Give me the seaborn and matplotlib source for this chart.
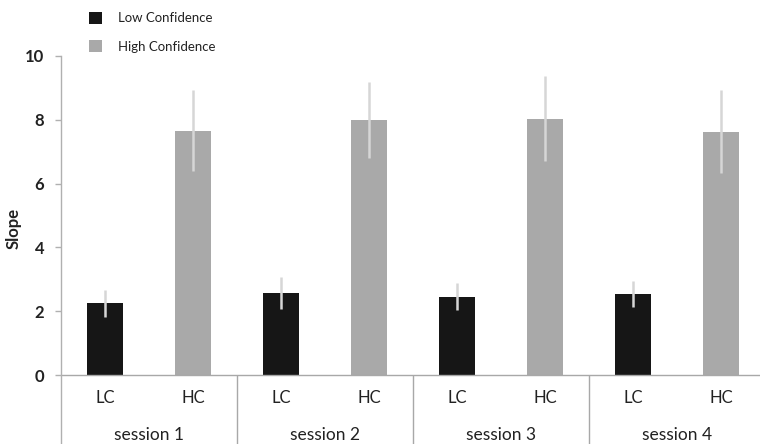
import numpy as np
import pandas as pd
import matplotlib
matplotlib.use("Agg")
import matplotlib.pyplot as plt
import seaborn as sns

sessions = ["session 1", "session 2", "session 3", "session 4"]
conditions = ["Low Confidence", "High Confidence"]
cond_short = ["LC", "HC"]
lc_means = [2.25, 2.57, 2.46, 2.53]
hc_means = [7.66, 8.00, 8.04, 7.62]
lc_err = [0.42, 0.50, 0.42, 0.41]
hc_err = [1.27, 1.20, 1.33, 1.30]
yticks = [0, 2, 4, 6, 8, 10]

sns.set_theme(style="white")
plt.rcParams['font.family'] = ['Lato', 'DejaVu Sans']

df = pd.DataFrame({
    "session": sessions * 2,
    "condition": [conditions[0]] * 4 + [conditions[1]] * 4,
    "slope": lc_means + hc_means,
})

W, H = 760, 444
fig = plt.figure(figsize=(W / 100, H / 100), dpi=100)
ax = fig.add_axes([61 / W, 0, 704 / W, 388 / H])

sns.barplot(data=df, x="session", y="slope", hue="condition",
            order=sessions, hue_order=conditions,
            palette=["#161616", "#a9a9a9"], saturation=1,
            width=1.0, gap=0.6, errorbar=None, linewidth=0, ax=ax)

for cont, errs in zip(ax.containers, [lc_err, hc_err]):
    xs = [b.get_x() + b.get_width() / 2 for b in cont]
    hs = [b.get_height() for b in cont]
    ax.errorbar(xs, hs, yerr=errs, fmt='none', ecolor='#d6d6d6',
                elinewidth=1.8, capsize=0, zorder=3)

ymin = -69 / 31.9
ax.set_ylim(ymin, 10)
ax.set_xlim(-0.5, 3.5)

for s in ["top", "right", "bottom"]:
    ax.spines[s].set_visible(False)
ax.spines["left"].set_color("#b0b0b0")
ax.spines["left"].set_linewidth(1)
ax.axhline(0, color="#a8a8a8", lw=1, zorder=1)
ax.vlines([0.5, 1.5, 2.5, 3.5], ymin, 0, color="#a8a8a8", lw=1)

ax.set_xticks([])
ax.set_xlabel("")
ax.set_yticks(yticks)
ax.set_yticklabels([str(t) for t in yticks], fontweight="bold", color="#222222")
ax.tick_params(axis="y", length=4, width=1, color="#b0b0b0", labelsize=12, pad=8, left=True)

ax.set_ylabel("Slope", fontweight="bold", fontsize=12, color="#222222")
ax.yaxis.set_label_coords((22 - 61) / 704, (444 - 228) / 388)

# category labels below the baseline
for cont, lab in zip(ax.containers, cond_short):
    for b in cont:
        ax.text(b.get_x() + b.get_width() / 2, -0.72, lab, ha="center", va="center",
                fontsize=12, color="#222222")
for i, s in enumerate(sessions):
    ax.text(i, -1.88, s, ha="center", va="center", fontsize=12.5, color="#222222")

leg = ax.legend(loc="upper left", bbox_to_anchor=(89 / W, 1 - 12 / H),
                bbox_transform=fig.transFigure, frameon=False,
                fontsize=9.5, handlelength=1.0, handleheight=1.0,
                handletextpad=1.2, labelspacing=1.2, borderpad=0, borderaxespad=0)
for t in leg.get_texts():
    t.set_color("#222222")

fig.savefig("out.png", dpi=100)
